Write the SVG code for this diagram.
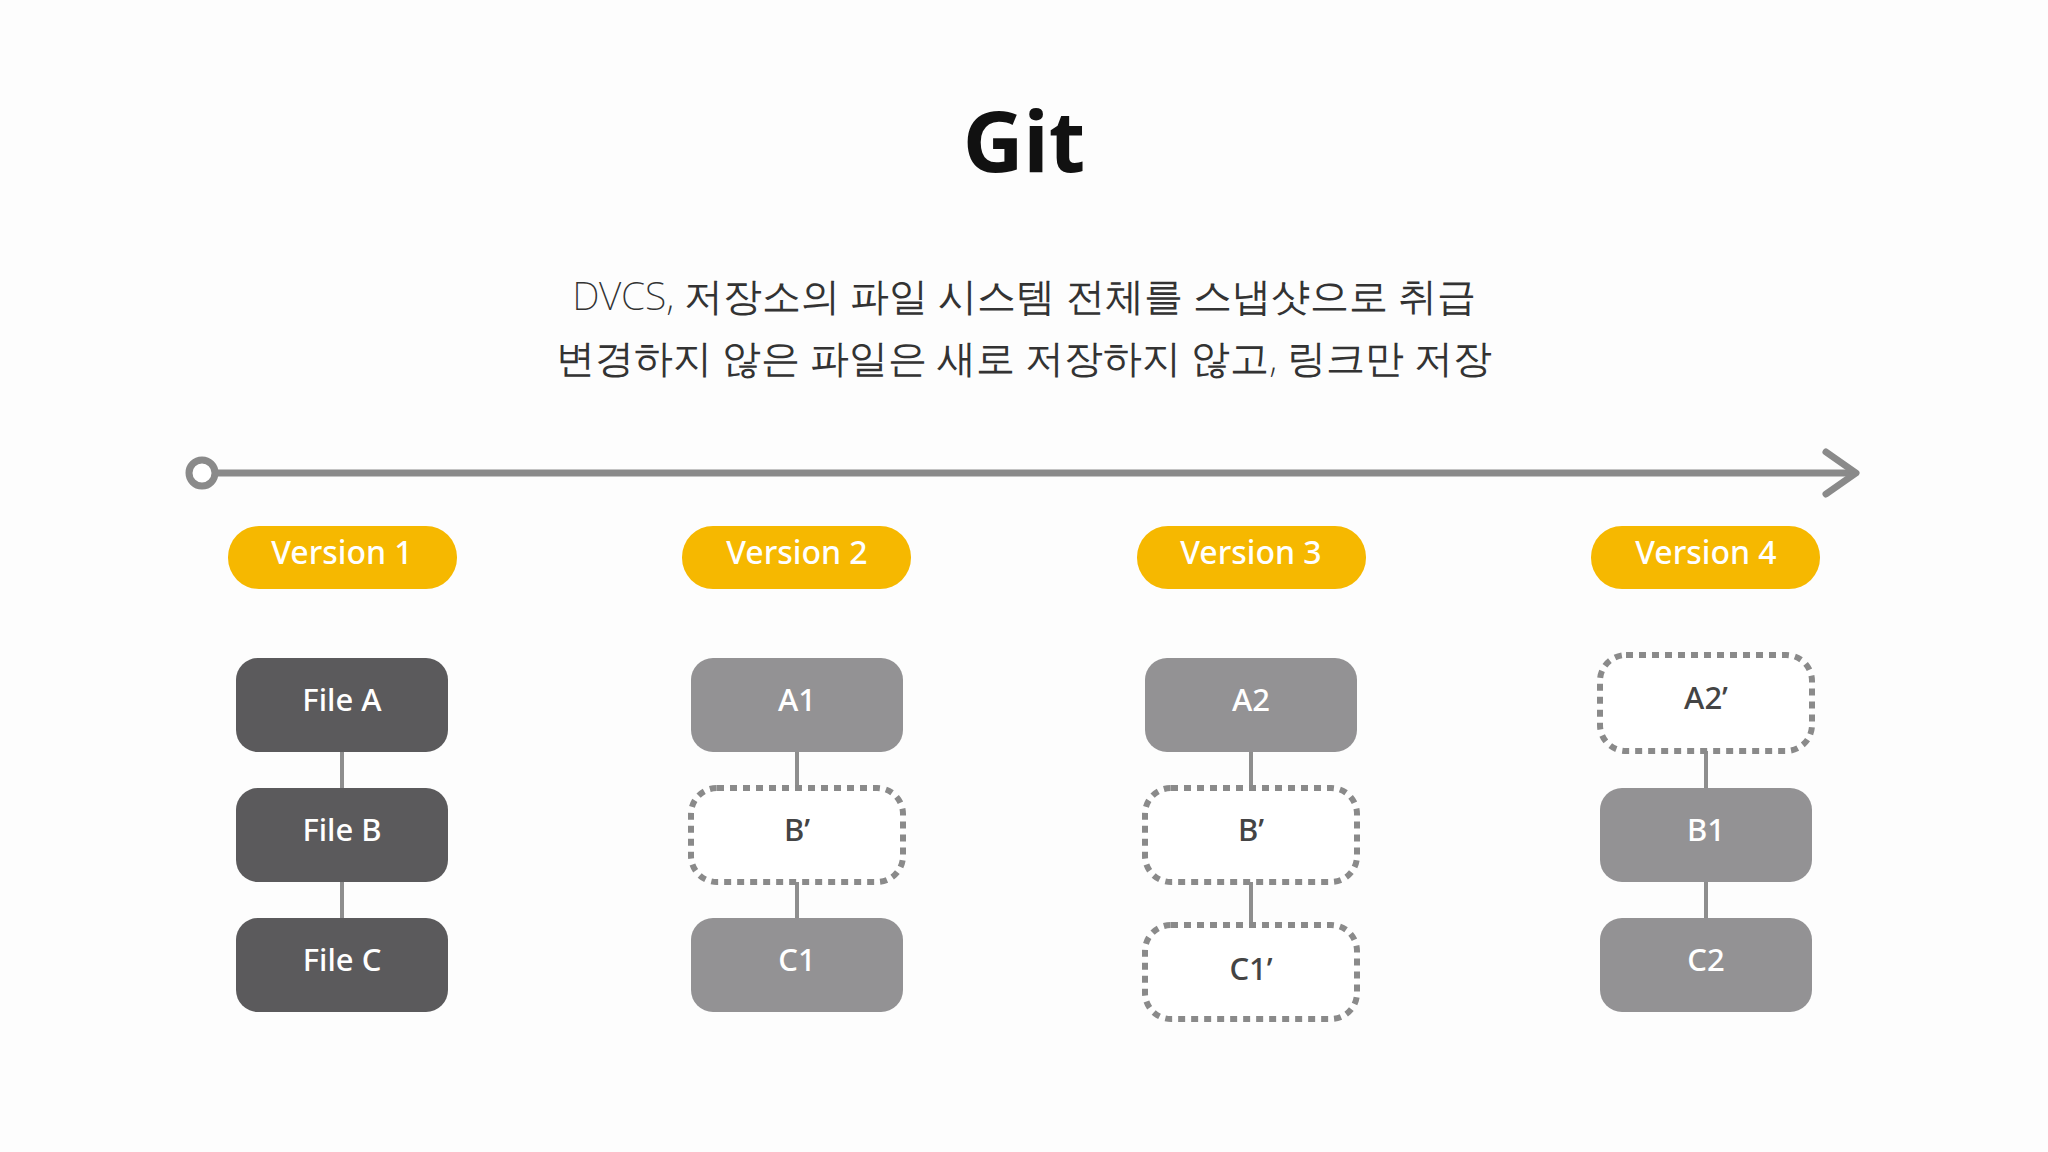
<svg xmlns="http://www.w3.org/2000/svg" width="2048" height="1152" viewBox="0 0 2048 1152">
<style>
.t{font-family:"Noto Sans","Liberation Sans",sans-serif;text-anchor:middle}
.pill{fill:#f6b800}
.pt{fill:#fff;font-size:32px;font-weight:500}
.dk{fill:#5b5a5c}
.gr{fill:#939294}
.ds{fill:#fff;stroke:#8a8a8a;stroke-width:6;stroke-dasharray:7 6}
.nt{fill:#fff;font-size:31px;font-weight:500}
.dt{fill:#444;font-size:31px;font-weight:500}
.c{stroke:#8e8e8e;stroke-width:4}
</style>
<rect width="2048" height="1152" fill="#fdfdfd"/>
<text class="t" x="1024" y="172" font-size="84" font-weight="bold" fill="#111">Git</text>
<text class="t" x="1024" y="310" font-size="39" font-weight="200" fill="#333" font-family="'Noto Sans CJK KR',sans-serif">DVCS, 저장소의 파일 시스템 전체를 스냅샷으로 취급</text>
<text class="t" x="1024" y="372" font-size="39" font-weight="200" fill="#333" font-family="'Noto Sans CJK KR',sans-serif">변경하지 않은 파일은 새로 저장하지 않고, 링크만 저장</text>
<g id="axis">
<line x1="216" y1="473" x2="1856" y2="473" stroke="#8a8a8a" stroke-width="7"/>
<circle cx="202" cy="473" r="13" fill="#fff" stroke="#8a8a8a" stroke-width="7"/>
<polyline points="1826,452 1856,473 1826,494" fill="none" stroke="#8a8a8a" stroke-width="7" stroke-linecap="round" stroke-linejoin="round"/>
</g>
<g id="v1"><rect class="pill" x="228" y="526" width="229" height="63" rx="31"/><text class="t pt" x="342" y="564">Version 1</text></g>
<g id="v2"><rect class="pill" x="682" y="526" width="229" height="63" rx="31"/><text class="t pt" x="797" y="564">Version 2</text></g>
<g id="v3"><rect class="pill" x="1137" y="526" width="229" height="63" rx="31"/><text class="t pt" x="1251" y="564">Version 3</text></g>
<g id="v4"><rect class="pill" x="1591" y="526" width="229" height="63" rx="31"/><text class="t pt" x="1706" y="564">Version 4</text></g>
<g id="connectors">
<line class="c" x1="342" y1="752" x2="342" y2="788"/><line class="c" x1="342" y1="882" x2="342" y2="918"/>
<line class="c" x1="797" y1="752" x2="797" y2="788"/><line class="c" x1="797" y1="882" x2="797" y2="918"/>
<line class="c" x1="1251" y1="752" x2="1251" y2="788"/><line class="c" x1="1251" y1="882" x2="1251" y2="925"/>
<line class="c" x1="1706" y1="751" x2="1706" y2="788"/><line class="c" x1="1706" y1="882" x2="1706" y2="918"/>
</g>
<g id="fileA"><rect class="dk" x="236" y="658" width="212" height="94" rx="22"/><text class="t nt" x="342" y="711">File A</text></g>
<g id="fileB"><rect class="dk" x="236" y="788" width="212" height="94" rx="22"/><text class="t nt" x="342" y="841">File B</text></g>
<g id="fileC"><rect class="dk" x="236" y="918" width="212" height="94" rx="22"/><text class="t nt" x="342" y="971">File C</text></g>
<g id="A1"><rect class="gr" x="691" y="658" width="212" height="94" rx="22"/><text class="t nt" x="797" y="711">A1</text></g>
<g id="B2"><rect class="ds" x="691" y="788" width="212" height="94" rx="26"/><text class="t dt" x="797" y="841">B’</text></g>
<g id="C1"><rect class="gr" x="691" y="918" width="212" height="94" rx="22"/><text class="t nt" x="797" y="971">C1</text></g>
<g id="A2"><rect class="gr" x="1145" y="658" width="212" height="94" rx="22"/><text class="t nt" x="1251" y="711">A2</text></g>
<g id="B3"><rect class="ds" x="1145" y="788" width="212" height="94" rx="26"/><text class="t dt" x="1251" y="841">B’</text></g>
<g id="C1p"><rect class="ds" x="1145" y="925" width="212" height="94" rx="26"/><text class="t dt" x="1251" y="980">C1’</text></g>
<g id="A2p"><rect class="ds" x="1600" y="655" width="212" height="96" rx="26"/><text class="t dt" x="1706" y="709">A2’</text></g>
<g id="B1"><rect class="gr" x="1600" y="788" width="212" height="94" rx="22"/><text class="t nt" x="1706" y="841">B1</text></g>
<g id="C2"><rect class="gr" x="1600" y="918" width="212" height="94" rx="22"/><text class="t nt" x="1706" y="971">C2</text></g>
</svg>
